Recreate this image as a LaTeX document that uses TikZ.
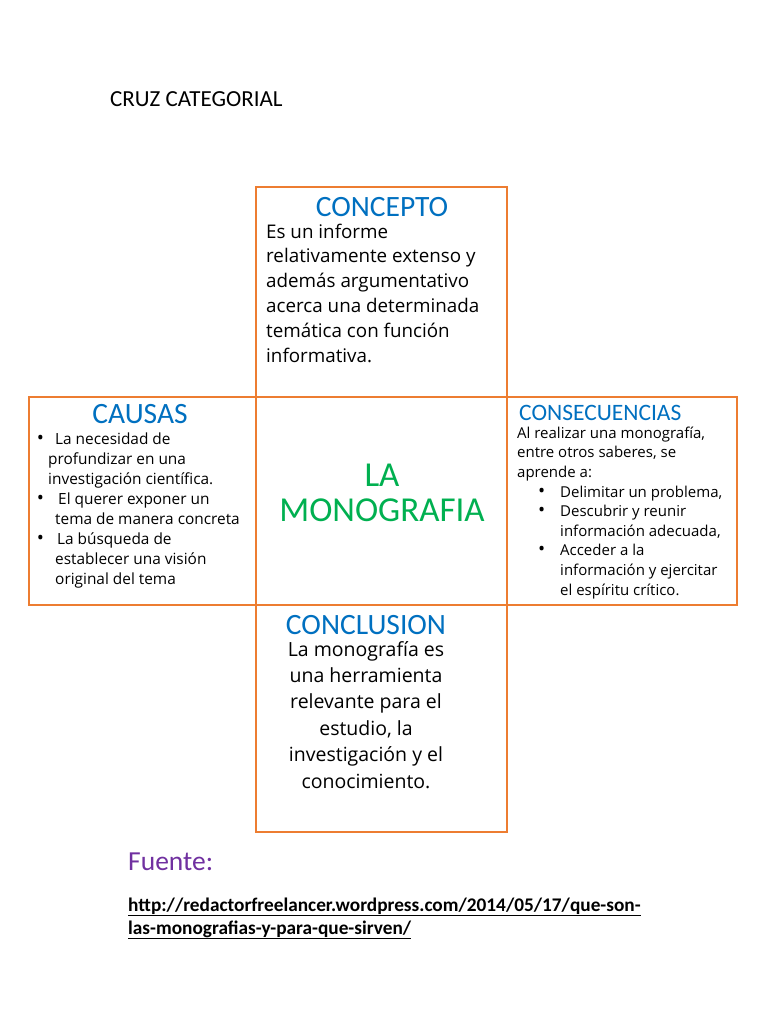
\documentclass[tikz,border=0pt]{standalone}
\usepackage{fontspec}
\setmainfont{Carlito}
\newfontfamily\bodyfont{Open Sans}
\newcommand{\bul}{{\fontsize{19}{19}\selectfont•}}
\definecolor{boxorange}{HTML}{ED7D31}
\definecolor{headblue}{HTML}{0070C0}
\definecolor{titlegreen}{HTML}{00B050}
\definecolor{fuentepurple}{HTML}{7030A0}
\begin{document}
\begin{tikzpicture}[x=1pt,y=-1pt,
  cell/.style={draw=boxorange,line width=1.3pt},
  head/.style={text=headblue,font=\fontsize{29.5}{32}\selectfont,inner sep=0pt,anchor=base},
  body/.style={font=\bodyfont\fontsize{18.8}{24.8}\selectfont,inner sep=0pt,anchor=base west,align=left},
  small/.style={font=\bodyfont\fontsize{15.4}{19.9}\selectfont,inner sep=0pt,anchor=base west,align=left}]
\useasboundingbox (0,0) rectangle (768,1024);
\fill[white] (0,0) rectangle (768,1024);
% boxes
\draw[cell] (256,187) rectangle (507,397);
\draw[cell] (29,397) rectangle (256,605);
\draw[cell] (256,397) rectangle (507,605);
\draw[cell] (507,397) rectangle (737,605);
\draw[cell] (256,605) rectangle (507,832);
% title
\node[font=\fontsize{23}{26}\selectfont,anchor=base west,inner sep=0pt] (title) at (110,107) {CRUZ CATEGORIAL};
% concepto
\node[head] (hconcepto) at (382,217) {CONCEPTO};
\node[body] (tconcepto) at (266,362) {Es un informe\\relativamente extenso y\\además argumentativo\\acerca una determinada\\temática con función\\informativa.};
% causas
\node[head] (hcausas) at (140,423) {CAUSAS};
\node[small] (tcausas) at (34,584) {\makebox[21pt][l]{\,\bul}La necesidad de\\\hspace*{14pt}profundizar en una\\\hspace*{14pt}investigación científica.\\\makebox[24pt][l]{\,\bul}El querer exponer un\\\hspace*{21pt}tema de manera concreta\\\makebox[23pt][l]{\,\bul}La búsqueda de\\\hspace*{21pt}establecer una visión\\\hspace*{21pt}original del tema};
% consecuencias
\node[head,font=\fontsize{23.5}{26}\selectfont,anchor=base west] (hconsec) at (519,420) {CONSECUENCIAS};
\node[small,font=\bodyfont\fontsize{15}{19.6}\selectfont] (tconsec) at (517,595) {Al realizar una monografía,\\entre otros saberes, se\\aprende a:\\\hspace*{21pt}\makebox[22pt][l]{\bul}Delimitar un problema,\\\hspace*{21pt}\makebox[22pt][l]{\bul}Descubrir y reunir\\\hspace*{43pt}información adecuada,\\\hspace*{21pt}\makebox[22pt][l]{\bul}Acceder a la\\\hspace*{43pt}información y ejercitar\\\hspace*{43pt}el espíritu crítico.};
% center
\node[text=titlegreen,font=\fontsize{35}{40}\selectfont,inner sep=0pt,anchor=base] (center) at (382,486) {LA};
\node[text=titlegreen,font=\fontsize{35}{40}\selectfont,inner sep=0pt,anchor=base] (center2) at (382,521) {MONOGRAFIA};
% conclusion
\node[head] (hconcl) at (366,634) {CONCLUSION};
\node[body,anchor=base,align=center,font=\bodyfont\fontsize{19.5}{26.4}\selectfont] (tconcl) at (366,788) {La monografía es\\una herramienta\\relevante para el\\estudio, la\\investigación y el\\conocimiento.};
% fuente
\node[text=fuentepurple,font=\fontsize{27.5}{30}\selectfont,anchor=base west,inner sep=0pt] (fuente) at (128,870) {Fuente:};
\node[font=\bfseries\fontsize{19.3}{23}\selectfont,anchor=base west,inner sep=0pt,align=left] (url) at (128,934) {\underline{http://redactorfreelancer.wordpress.com/2014/05/17/que-son-}\\\underline{las-monografias-y-para-que-sirven/}};
\end{tikzpicture}
\end{document}
